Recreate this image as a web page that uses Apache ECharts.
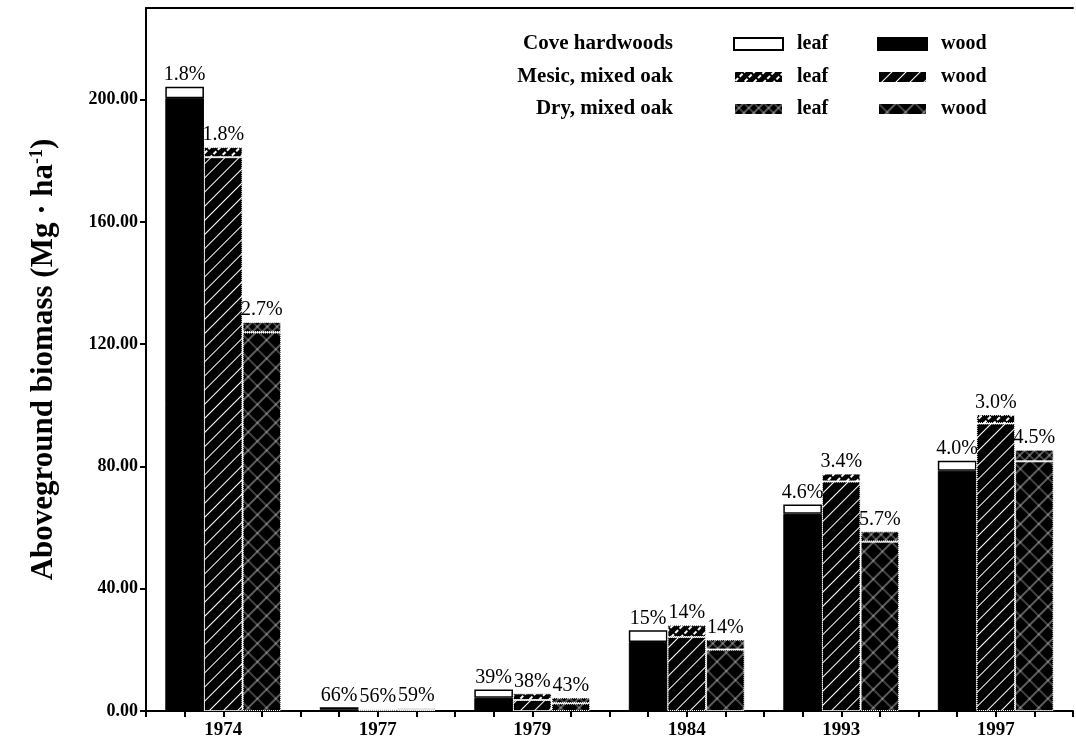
<!DOCTYPE html>
<html>
<head>
<meta charset="utf-8">
<script src="https://cdn.jsdelivr.net/npm/echarts@6/dist/echarts.min.js"></script>
<style>
html,body{margin:0;padding:0;background:#fff;}
#chart{width:1076px;height:741px;}
</style>
</head>
<body>
<div id="chart"></div>
<script>
// ---- data ----
const years = ['1974', '1977', '1979', '1984', '1993', '1997'];
const coveWood  = [200.5, 0.4, 4.3, 22.6, 64.5, 78.6];
const coveLeaf  = [3.7, 0.8, 2.7, 3.8, 3.1, 3.3];
const mesicWood = [181.2, 0.3, 3.6, 24.2, 75.1, 94.1];
const mesicLeaf = [3.3, 0.4, 2.2, 3.9, 2.6, 2.9];
const dryWood   = [123.9, 0.4, 2.5, 20.1, 55.4, 81.7];
const dryLeaf   = [3.4, 0.6, 1.9, 3.3, 3.4, 3.8];
const covePct  = ['1.8%', '66%', '39%', '15%', '4.6%', '4.0%'];
const mesicPct = ['1.8%', '56%', '38%', '14%', '3.4%', '3.0%'];
const dryPct   = ['2.7%', '59%', '43%', '14%', '5.7%', '4.5%'];
const yTicks = [0, 40, 80, 120, 160, 200];
const rowNames = ['Cove hardwoods', 'Mesic, mixed oak', 'Dry, mixed oak'];

const SERIF = '"Liberation Serif", "DejaVu Serif", serif';

const diagDecal = {
  symbol: 'rect', symbolSize: 1, color: '#fff',
  dashArrayX: [1, 0], dashArrayY: [1, 8.5], rotation: -Math.PI / 4
};
const diagLeafDecal = {
  symbol: 'rect', symbolSize: 1, color: '#fff',
  dashArrayX: [4, 2], dashArrayY: [1.2, 4.5], rotation: -Math.PI / 4
};
const crossDecal = {
  symbol: 'path://M0,0H20V20H0Z M0.55,0.55V19.45H19.45V0.55Z', symbolSize: 1, color: '#fff',
  dashArrayX: [13, 0], dashArrayY: [13, 0], rotation: Math.PI / 4
};
const crossLeafDecal = {
  symbol: 'path://M0,0H20V20H0Z M1,1V19H19V1Z', symbolSize: 1, color: '#fff',
  dashArrayX: [7, 0], dashArrayY: [7, 0], rotation: Math.PI / 4
};

function pctLabel(arr) {
  return {
    show: true, position: 'top', distance: 2,
    formatter: p => arr[p.dataIndex],
    color: '#000', fontFamily: SERIF, fontSize: 20
  };
}

const common = { type: 'bar', xAxisIndex: 0, yAxisIndex: 0, barGap: '0%', barCategoryGap: '25%' };

const series = [
  Object.assign({}, common, { name: 'Cove wood', stack: 'cove', data: coveWood,
    itemStyle: { color: '#000', borderColor: '#000', borderWidth: 1 } }),
  Object.assign({}, common, { name: 'Cove leaf', stack: 'cove', data: coveLeaf,
    itemStyle: { color: '#fff', borderColor: '#000', borderWidth: 1.5 }, label: pctLabel(covePct) }),
  Object.assign({}, common, { name: 'Mesic wood', stack: 'mesic', data: mesicWood,
    itemStyle: { color: '#000', decal: diagDecal, borderColor: '#fff', borderWidth: 1, borderType: 'dotted' } }),
  Object.assign({}, common, { name: 'Mesic leaf', stack: 'mesic', data: mesicLeaf,
    itemStyle: { color: '#000', decal: diagLeafDecal, borderColor: '#fff', borderWidth: 1, borderType: 'dotted' }, label: pctLabel(mesicPct) }),
  Object.assign({}, common, { name: 'Dry wood', stack: 'dry', data: dryWood,
    itemStyle: { color: '#000', decal: crossDecal, borderColor: '#fff', borderWidth: 1, borderType: 'dotted' } }),
  Object.assign({}, common, { name: 'Dry leaf', stack: 'dry', data: dryLeaf,
    itemStyle: { color: '#000', decal: crossLeafDecal, borderColor: '#fff', borderWidth: 1, borderType: 'dotted' }, label: pctLabel(dryPct) })
];

const rowY = [44, 77, 109];
const legends = [];
const seriesNames = [['Cove leaf', 'Cove wood'], ['Mesic leaf', 'Mesic wood'], ['Dry leaf', 'Dry wood']];
seriesNames.forEach((pair, r) => {
  pair.forEach((nm, c) => {
    legends.push({
      data: [nm], left: c === 0 ? 733 : 877, top: rowY[r] - 10,
      padding: 0, itemWidth: 49, itemHeight: 12, icon: 'rect',
      selectedMode: false,
      formatter: n => n.split(' ')[1],
      textStyle: { fontFamily: SERIF, fontWeight: 'bold', fontSize: 20, color: '#000',
        lineHeight: 20, padding: [0, 0, 0, 9] }
    });
  });
});

const graphics = rowNames.map((t, i) => ({
  type: 'text', x: 673, y: rowY[i],
  style: { text: t, align: 'right', verticalAlign: 'middle', fill: '#000',
    font: 'bold 21px ' + SERIF }
}));

const option = {
  animation: false,
  backgroundColor: '#fff',
  grid: { left: 146, top: 8, width: 942, bottom: 30, containLabel: false },
  legend: legends,
  graphic: graphics,
  xAxis: [
    { type: 'category', position: 'top', data: years,
      axisLine: { show: true, onZero: false, lineStyle: { color: '#000', width: 2 } },
      axisTick: { show: false }, axisLabel: { show: false }, splitLine: { show: false } },
    { type: 'value', position: 'bottom', min: 0, max: 24, interval: 1,
      axisLine: { show: true, onZero: false, lineStyle: { color: '#000', width: 2 } },
      axisTick: { show: true, length: 6, lineStyle: { color: '#000', width: 2 } },
      splitLine: { show: false },
      axisLabel: { show: true, margin: 10, color: '#000', fontFamily: SERIF, fontWeight: 'bold', fontSize: 19,
        formatter: v => (v % 4 === 2 ? years[(v - 2) / 4] : '') } }
  ],
  yAxis: {
    type: 'value', min: 0, max: 230, interval: 40,
    name: 'Aboveground biomass (Mg · ha{sup|-1})',
    nameLocation: 'middle', nameGap: 86,
    nameTextStyle: { color: '#000', fontFamily: SERIF, fontWeight: 'bold', fontSize: 31,
      rich: { sup: { fontFamily: SERIF, fontWeight: 'bold', fontSize: 18, padding: [0, 0, 14, 0], color: '#000' } } },
    axisLine: { show: true, lineStyle: { color: '#000', width: 2 } },
    axisTick: { show: true, length: 6, customValues: yTicks, lineStyle: { color: '#000', width: 2 } },
    splitLine: { show: false },
    axisLabel: { customValues: yTicks, margin: 8, color: '#000', fontFamily: SERIF, fontWeight: 'bold', fontSize: 18,
      formatter: v => v.toFixed(2) }
  },
  series: series
};

const chart = echarts.init(document.getElementById('chart'), null, { renderer: 'canvas' });
chart.setOption(option);
</script>
</body>
</html>
